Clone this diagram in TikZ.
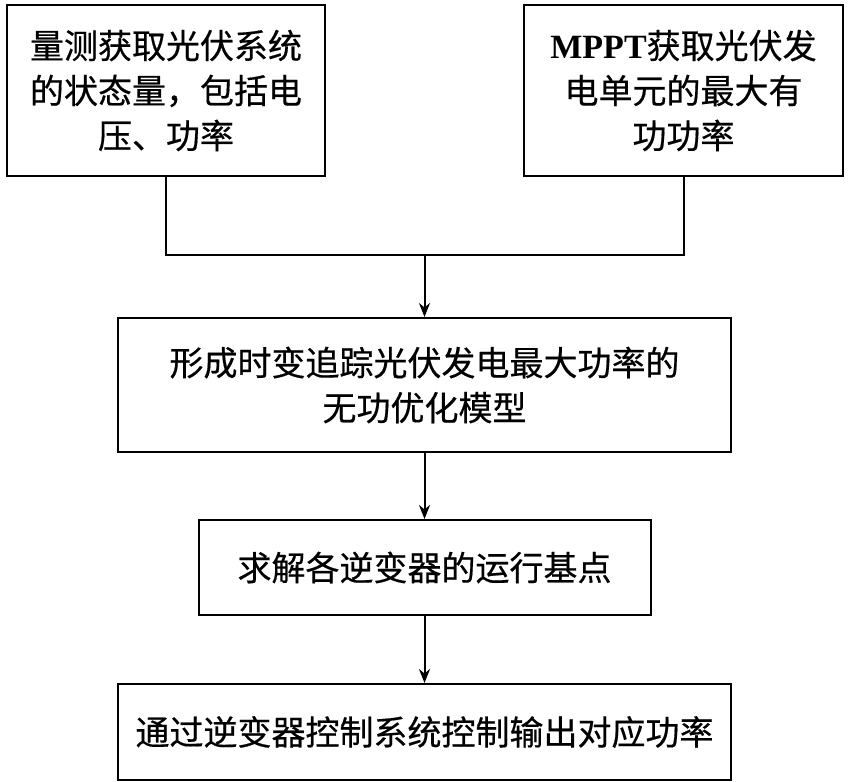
\documentclass[tikz,border=0pt]{standalone}
\usepackage{fontspec}
\setmainfont{Liberation Serif}
\newfontfamily\cjk[FakeBold=0.5]{Noto Sans CJK SC}
\usetikzlibrary{arrows.meta,positioning,calc}

\begin{document}
\begin{tikzpicture}[x=1pt, y=-1pt,
  box/.style={draw, line width=2pt, align=center, inner sep=0pt,
              font=\cjk\fontsize{34}{45}\selectfont},
  link/.style={line width=2pt},
  arr/.style={-{Stealth[length=14pt,width=11pt]}, line width=2pt}
]
  \useasboundingbox (0,0) rectangle (850,781);

  \node[box, minimum width=318pt, minimum height=171pt] (measure) at (166,90.5)
    {量测获取光伏系统\\的状态量，包括电\\压、功率};
  \node[box, minimum width=319pt, minimum height=171pt] (mppt) at (683.5,90.5)
    {{\rmfamily\bfseries MPPT}获取光伏发\\电单元的最大有\\功功率};
  \node[box, minimum width=613pt, minimum height=134pt] (model) at (424.5,385)
    {形成时变追踪光伏发电最大功率的\\无功优化模型};
  \node[box, minimum width=452pt, minimum height=95pt, below=66pt of model] (solve)
    {求解各逆变器的运行基点};
  \node[box, minimum width=613pt, minimum height=96pt, below=67pt of solve] (output)
    {通过逆变器控制系统控制输出对应功率};

  \coordinate (join) at (424.5,255);
  \draw[link] (measure.south) |- (join);
  \draw[link] (mppt.south) |- (join);
  \draw[arr] (join) -- (model);
  \draw[arr] (model) -- (solve);
  \draw[arr] (solve) -- (output);
\end{tikzpicture}
\end{document}
